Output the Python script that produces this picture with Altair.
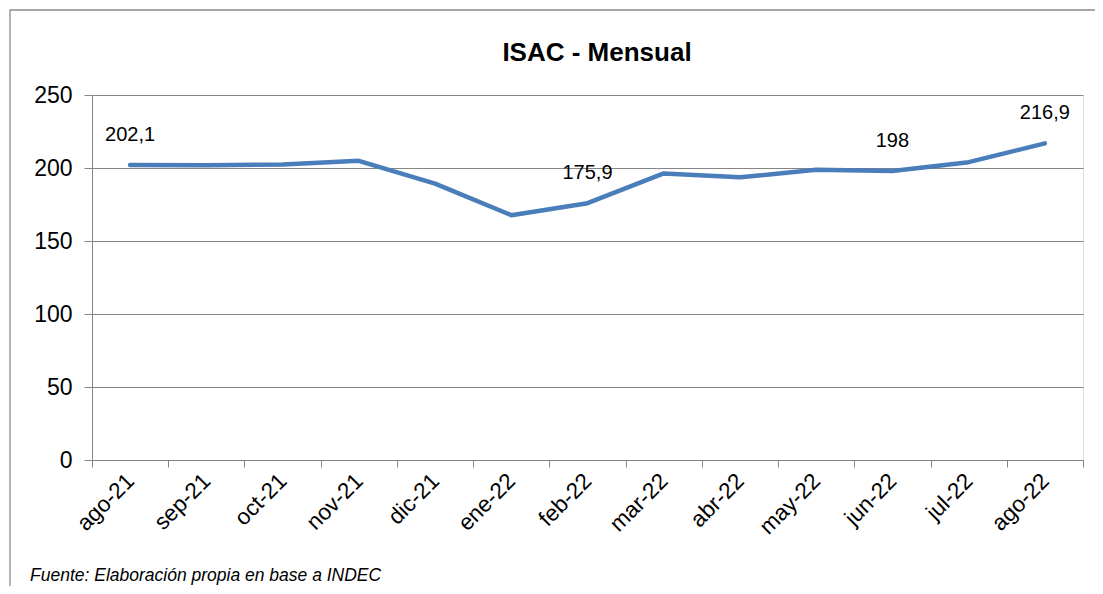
import altair as alt
import pandas as pd

months = ["ago-21", "sep-21", "oct-21", "nov-21", "dic-21", "ene-22", "feb-22",
          "mar-22", "abr-22", "may-22", "jun-22", "jul-22", "ago-22"]
values = [202.1, 201.9, 202.4, 204.9, 189.3, 167.7, 175.9,
          196.3, 193.6, 198.8, 198.0, 204.0, 216.9]
labels = ["202,1", "", "", "", "", "", "175,9", "", "", "", "198", "", "216,9"]
y_ticks = [0, 50, 100, 150, 200, 250]
title_text = "ISAC - Mensual"
footer_text = "Fuente: Elaboración propia en base a INDEC"

df = pd.DataFrame({"mes": months, "valor": values, "etiqueta": labels})

FONT = "Liberation Sans"
GRID = "#868686"

x_enc = alt.X("mes:N", sort=months, bandPosition=0.5,
              scale=alt.Scale(type="band", paddingInner=0, paddingOuter=0),
              axis=alt.Axis(title=None, labelAngle=-45, labelAlign="right",
                            labelBaseline="middle", labelFontSize=22.5,
                            labelFont=FONT, labelColor="#000000",
                            tickBand="extent", tickSize=7, tickColor=GRID,
                            domainColor=GRID, labelPadding=10, grid=False))
y_enc = alt.Y("valor:Q", scale=alt.Scale(domain=[0, 250], nice=False),
              axis=alt.Axis(title=None, values=y_ticks, grid=True, gridColor=GRID,
                            domainColor=GRID, tickColor=GRID, tickSize=8,
                            labelFontSize=23, labelFont=FONT, labelColor="#000000",
                            labelPadding=12))

line = alt.Chart(df).mark_line(color="#4A7EBB", strokeWidth=4.5,
                               strokeCap="round", strokeJoin="round").encode(
    x=x_enc, y=y_enc)

text = alt.Chart(df).mark_text(font=FONT, fontSize=20, dy=-30,
                               color="#000000").encode(
    x=alt.X("mes:N", sort=months, bandPosition=0.5),
    y="valor:Q", text="etiqueta:N")

frame = alt.Chart(pd.DataFrame({"k": [0]})).mark_rect(
    fill="transparent", stroke="#8c8c8c", strokeWidth=1.3).encode(
    x=alt.value(-82), x2=alt.value(1100), y=alt.value(-85), y2=alt.value(600))

title = alt.Chart(pd.DataFrame({"t": [title_text]})).mark_text(
    font=FONT, fontSize=26, fontWeight="bold", align="center",
    baseline="alphabetic", color="#000000").encode(
    x=alt.value(505), y=alt.value(-34), text="t:N")

footer = alt.Chart(pd.DataFrame({"t": [footer_text]})).mark_text(
    font=FONT, fontSize=17.5, fontStyle="italic", align="left",
    baseline="alphabetic", color="#000000").encode(
    x=alt.value(-62), y=alt.value(486), text="t:N")

chart = alt.layer(frame, line, text, title, footer).properties(
    width=991, height=365,
    autosize=alt.AutoSizeParams(type="none"),
    padding={"left": 84, "top": 87, "right": 12, "bottom": 126},
).configure_view(strokeWidth=0).configure(background="white")

chart.save("out.html", embed_options={"renderer": "svg", "actions": False})
